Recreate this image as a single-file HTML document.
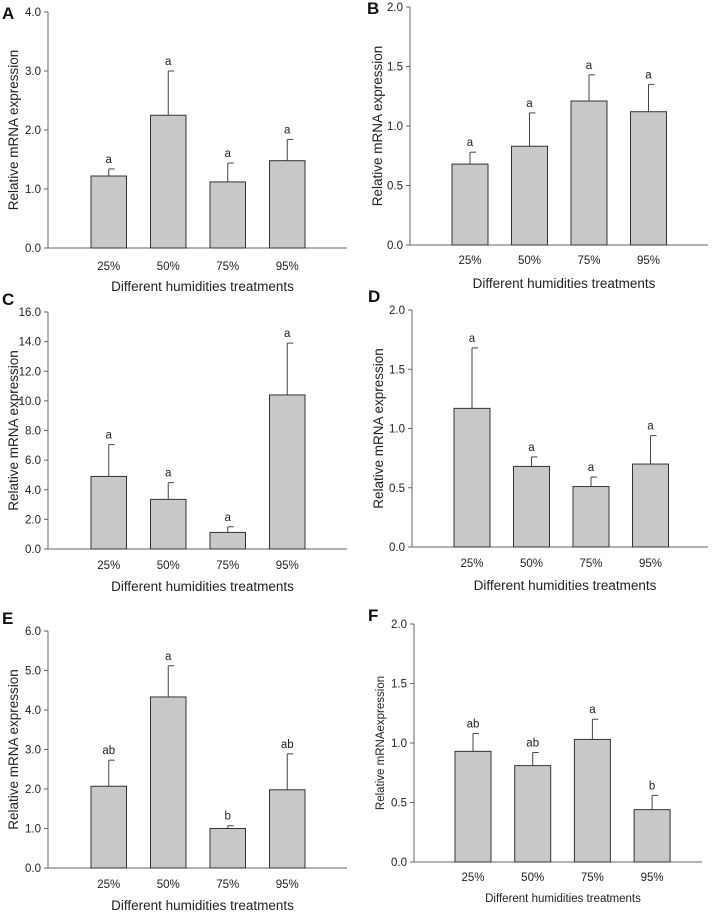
<!DOCTYPE html>
<html><head><meta charset="utf-8"><style>
html,body{margin:0;padding:0;background:#fff;}
svg{display:block;font-family:"Liberation Sans",Arial,sans-serif;}
</style></head><body>
<svg id="fig" width="715" height="913" viewBox="0 0 715 913"></svg>
<script>
const categories = ["25%","50%","75%","95%"];
const valuesA = [1.22,2.25,1.12,1.48];
const errA = [1.34,3.0,1.44,1.84];
const lettersA = ["a","a","a","a"];
const ticksA = [0,1,2,3,4];
const valuesB = [0.68,0.83,1.21,1.12];
const errB = [0.78,1.11,1.43,1.35];
const lettersB = ["a","a","a","a"];
const ticksB = [0,0.5,1,1.5,2];
const valuesC = [4.9,3.35,1.12,10.4];
const errC = [7.05,4.48,1.5,13.9];
const lettersC = ["a","a","a","a"];
const ticksC = [0,2,4,6,8,10,12,14,16];
const valuesD = [1.17,0.68,0.51,0.70];
const errD = [1.68,0.76,0.59,0.94];
const lettersD = ["a","a","a","a"];
const ticksD = [0,0.5,1,1.5,2];
const valuesE = [2.07,4.33,1.0,1.98];
const errE = [2.73,5.12,1.07,2.89];
const lettersE = ["ab","a","b","ab"];
const ticksE = [0,1,2,3,4,5,6];
const valuesF = [0.93,0.81,1.03,0.44];
const errF = [1.08,0.92,1.20,0.56];
const lettersF = ["ab","ab","a","b"];
const ticksF = [0,0.5,1,1.5,2];

const NS="http://www.w3.org/2000/svg";
const svg=document.getElementById('fig');
function mk(tag,attrs,parent){const e=document.createElementNS(NS,tag);for(const k in attrs)e.setAttribute(k,attrs[k]);(parent||svg).appendChild(e);return e;}

function panel(p){
  const g=mk('g',{});
  
  
  const maxV=p.ticks[p.ticks.length-1];
  const y=v=>p.bottom-(v/maxV)*(p.bottom-p.top);
  const xb=i=>p.bar0+i*p.step;
  const lbl=mk('text',{x:p.lx,y:p.ly,'font-size':17,'font-weight':'bold',fill:'#111'},g);
  lbl.textContent=p.id;
  
  
  const ax=mk('line',{x1:p.ax,y1:p.top,x2:p.ax,y2:p.bottom,stroke:'#666','stroke-width':1},g);
  
  
  const xa=mk('line',{x1:p.ax,y1:p.bottom,x2:p.xEnd,y2:p.bottom,stroke:'#666','stroke-width':1},g);
  
  
  p.ticks.forEach(t=>{
    const yy=y(t);
    mk('line',{x1:p.ax-4,y1:yy,x2:p.ax,y2:yy,stroke:'#666'},g);
    const tt=mk('text',{x:p.ax-7,y:yy+4,'font-size':11.5,'text-anchor':'end',fill:'#222'},g);
    tt.textContent=t.toFixed(1);
    
    
  });
  p.values.forEach((v,i)=>{
    const x0=xb(i),cx=x0+p.bw/2;
    const e=mk('line',{x1:cx,y1:y(v),x2:cx,y2:y(p.err[i]),stroke:'#444'},g);
    
    
    mk('line',{x1:cx,y1:y(p.err[i]),x2:cx+6,y2:y(p.err[i]),stroke:'#444'},g);
    const r=mk('rect',{x:x0,y:y(v),width:p.bw,height:p.bottom-y(v),fill:'#c8c8c8',stroke:'#333','stroke-width':1},g);
    
    
    const l=mk('text',{x:cx,y:y(p.err[i])-6,'font-size':11.5,'text-anchor':'middle',fill:'#222'},g);
    l.textContent=p.letters[i];
    
    
    const c=mk('text',{x:cx,y:p.tickY+4,'font-size':11.5,'text-anchor':'middle',fill:'#222'},g);
    c.textContent=categories[i];
    
    
  });
  const xt=mk('text',{x:(p.ax+p.xEnd)/2+5,y:p.titleY+5,'font-size':p.fs,'text-anchor':'middle',fill:'#222'},g);
  xt.textContent='Different humidities treatments';
  
  
  const ycx=p.ylx, ycy=(p.top+p.bottom)/2;
  const yt=mk('text',{x:ycx,y:ycy,'font-size':p.fs,'text-anchor':'middle',fill:'#222',transform:`rotate(-90 ${ycx} ${ycy})`},g);
  yt.textContent=p.ytitle||'Relative mRNA expression';
  
  
}
panel({id:'A',values:valuesA,err:errA,letters:lettersA,ticks:ticksA,ax:48,top:12,bottom:248,xEnd:347,bar0:91,step:59.5,bw:35.5,tickY:266,titleY:286,lx:2,ly:19,ylx:18,fs:13.5});
panel({id:'C',values:valuesC,err:errC,letters:lettersC,ticks:ticksC,ax:48,top:312,bottom:549,xEnd:347,bar0:91,step:59.5,bw:35.5,tickY:565,titleY:586,lx:2,ly:305,ylx:18,fs:13.5});
panel({id:'E',values:valuesE,err:errE,letters:lettersE,ticks:ticksE,ax:48,top:631,bottom:868,xEnd:347,bar0:91,step:59.5,bw:35.5,tickY:884,titleY:905,lx:2,ly:624,ylx:18,fs:13.5});
panel({id:'B',values:valuesB,err:errB,letters:lettersB,ticks:ticksB,ax:410,top:7,bottom:245,xEnd:708,bar0:452,step:59.5,bw:36,tickY:260,titleY:283,lx:367,ly:14,ylx:382,fs:13.5});
panel({id:'D',values:valuesD,err:errD,letters:lettersD,ticks:ticksD,ax:412,top:310,bottom:547,xEnd:708,bar0:454,step:59.5,bw:36,tickY:563,titleY:585,lx:368,ly:302,ylx:383,fs:13.5});
panel({id:'F',values:valuesF,err:errF,letters:lettersF,ticks:ticksF,ax:414,top:624,bottom:862,xEnd:702,bar0:455,step:59.7,bw:36,tickY:877,titleY:897,lx:368,ly:621,ylx:384,fs:11.5,ytitle:'Relative mRNAexpression'});
</script>
</body></html>
